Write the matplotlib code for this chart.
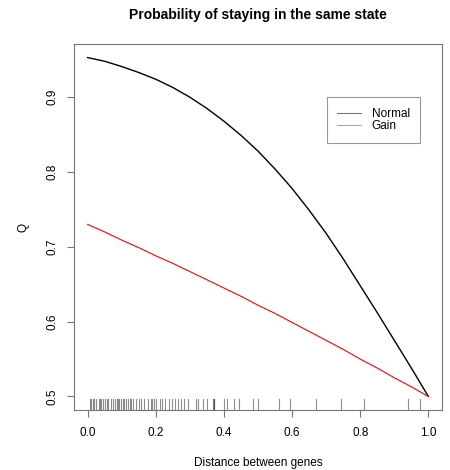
import matplotlib
matplotlib.use("Agg")
import matplotlib.pyplot as plt
from matplotlib.lines import Line2D

plt.rcParams['font.family'] = ['Liberation Sans', 'DejaVu Sans']

# values
dist = [0.00, 0.05, 0.10, 0.15, 0.20, 0.25, 0.30, 0.35, 0.40, 0.45, 0.50,
        0.55, 0.60, 0.65, 0.70, 0.75, 0.80, 0.85, 0.90, 0.95, 1.00]
q_normal = [0.953, 0.948, 0.941, 0.933, 0.924, 0.913, 0.900, 0.885, 0.868, 0.849, 0.828,
            0.804, 0.778, 0.749, 0.718, 0.684, 0.648, 0.612, 0.575, 0.538, 0.500]
q_gain = [0.730, 0.720, 0.709, 0.699, 0.688, 0.678, 0.667, 0.656, 0.645, 0.634, 0.622,
          0.611, 0.599, 0.587, 0.575, 0.563, 0.550, 0.538, 0.525, 0.513, 0.500]

# observed gene distances (rug)
gene_dist = [0.007, 0.011, 0.015, 0.020, 0.026, 0.032, 0.036, 0.040, 0.046, 0.050,
             0.056, 0.061, 0.069, 0.073, 0.079, 0.085, 0.089, 0.093, 0.097, 0.103,
             0.106, 0.112, 0.118, 0.124, 0.128, 0.132, 0.142, 0.152, 0.157, 0.165,
             0.177, 0.185, 0.190, 0.194, 0.200, 0.212, 0.218, 0.226, 0.240, 0.249,
             0.255, 0.265, 0.273, 0.282, 0.294, 0.317, 0.325, 0.340, 0.349, 0.367,
             0.370, 0.372, 0.399, 0.408, 0.431, 0.443, 0.484, 0.501, 0.563, 0.595,
             0.670, 0.745, 0.810, 0.940, 0.975]

xticks = [0.0, 0.2, 0.4, 0.6, 0.8, 1.0]
yticks = [0.5, 0.6, 0.7, 0.8, 0.9]

W, H = 450, 470
fig = plt.figure(figsize=(W / 100, H / 100), dpi=100)
ax = fig.add_axes([74 / W, 1 - 410 / H, (442 - 74) / W, (410 - 44) / H])

ax.plot(dist, q_normal, color='black', lw=1.0)
ax.plot(dist, q_gain, color='red', lw=0.8)

# rug along the bottom
for d in gene_dist:
    ax.axvline(d, ymin=0, ymax=0.03, color='black', alpha=0.45, lw=0.8)

ymin, ymax = min(q_gain + q_normal), max(q_gain + q_normal)
pad = 0.04 * (ymax - ymin)
ax.set_xlim(-0.04, 1.04)
ax.set_ylim(ymin - pad, ymax + pad)

ax.set_xticks(xticks)
ax.set_xticklabels([f"{t:.1f}" for t in xticks])
ax.set_yticks(yticks)
ax.set_yticklabels([f"{t:.1f}" for t in yticks], rotation=90, va='center')

for s in ax.spines.values():
    s.set_color('#777777')
    s.set_linewidth(0.8)
ax.tick_params(direction='out', length=5, width=0.8, color='#777777',
               labelsize=8.5, labelcolor='black')
ax.tick_params(axis='x', pad=7)
ax.tick_params(axis='y', pad=6)

ax.set_xlabel('Distance between genes', fontsize=8.5)
ax.xaxis.set_label_coords(0.5, -(463 - 410) / 366)
ax.xaxis.label.set_va('center')
ax.set_ylabel('Q', fontsize=8.5)
ax.yaxis.set_label_coords((24 - 74) / 368, 0.5)
ax.yaxis.label.set_va('center')

ax.text(0.5, 1 + (44 - 15) / 366, 'Probability of staying in the same state',
        transform=ax.transAxes, ha='center', va='center',
        fontsize=10, fontweight='bold')

handles = [Line2D([], [], color='#555555', lw=0.6),
           Line2D([], [], color='#ff6666', lw=0.6)]
leg = ax.legend(handles, ['Normal', 'Gain'], loc='upper left',
                bbox_to_anchor=(0.687, 0.855), fontsize=8.5,
                frameon=True, fancybox=False, framealpha=1,
                edgecolor='#999999', handlelength=2.0, handletextpad=0.9,
                labelspacing=0.05, borderpad=0.9, borderaxespad=0)
leg.get_frame().set_linewidth(0.8)

fig.savefig('out.png', dpi=100)
